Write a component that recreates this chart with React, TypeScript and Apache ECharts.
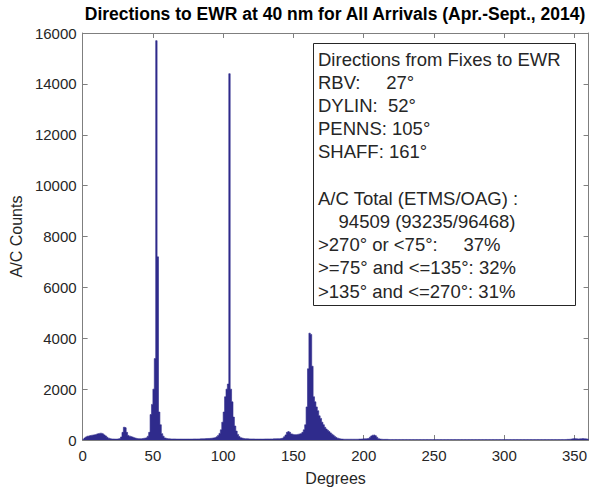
import React, { useEffect, useRef } from "react";
import * as echarts from "echarts";

// Histogram counts per 1-degree bin (bin d covers [d, d+1))
const counts000to059 = [
  30, 80, 120, 150, 170, 180, 190, 200, 210, 230,
  250, 260, 270, 260, 240, 200, 160, 110, 70, 50,
  40, 40, 35, 35, 40, 50, 70, 120, 300, 500,
  480, 300, 180, 150, 130, 110, 90, 70, 60, 50,
  50, 50, 60, 70, 80, 100, 150, 300, 1000, 1400,
  2000, 3200, 15700, 7200, 1100, 600, 250, 150, 80, 60,
];
const counts060to119 = [
  50, 45, 40, 40, 40, 40, 35, 35, 35, 35,
  35, 35, 35, 35, 35, 35, 35, 35, 40, 40,
  40, 40, 40, 45, 45, 50, 50, 55, 60, 60,
  65, 70, 80, 90, 100, 130, 180, 260, 400, 700,
  1100, 1700, 2000, 2200, 14400, 2000, 1500, 900, 550, 350,
  220, 140, 90, 70, 60, 50, 50, 45, 40, 40,
];
const counts120to179 = [
  40, 40, 35, 35, 35, 35, 35, 35, 35, 40,
  40, 40, 40, 40, 40, 45, 45, 50, 50, 50,
  55, 70, 90, 130, 200, 300, 330, 300, 240, 220,
  210, 210, 220, 230, 250, 260, 300, 400, 600, 1300,
  2800, 4200, 4150, 2900, 1700, 1500, 1300, 1150, 950, 850,
  700, 600, 500, 430, 380, 330, 280, 230, 190, 140,
];
const counts180to239 = [
  100, 70, 50, 40, 35, 30, 30, 30, 30, 30,
  30, 30, 30, 30, 30, 30, 35, 35, 40, 45,
  45, 50, 55, 60, 110, 160, 190, 200, 170, 110,
  50, 35, 30, 25, 25, 25, 25, 20, 20, 20,
  20, 20, 20, 20, 20, 20, 20, 20, 20, 20,
  20, 20, 18, 18, 18, 18, 18, 18, 18, 18,
];
const counts240to299 = [
  18, 18, 18, 18, 18, 18, 18, 18, 18, 18,
  18, 18, 18, 18, 18, 18, 18, 18, 18, 18,
  18, 18, 18, 18, 18, 18, 18, 18, 18, 18,
  18, 18, 18, 18, 18, 18, 18, 18, 18, 18,
  18, 18, 18, 18, 18, 18, 18, 18, 18, 18,
  18, 18, 18, 18, 18, 18, 18, 18, 18, 18,
];
const counts300to359 = [
  18, 18, 18, 18, 18, 18, 18, 18, 18, 18,
  18, 18, 18, 18, 18, 18, 18, 18, 18, 18,
  18, 18, 18, 18, 18, 18, 18, 18, 18, 18,
  18, 18, 18, 18, 18, 18, 18, 18, 18, 18,
  20, 20, 20, 20, 25, 25, 30, 40, 50, 55,
  50, 45, 40, 45, 50, 55, 50, 45, 40, 30,
];

const xTicks = { min: 0, max: 360, interval: 50 };
const yTicks = { min: 0, max: 16000, interval: 2000 };

const titleText = "Directions to EWR at 40 nm for All Arrivals (Apr.-Sept., 2014)";
const xName = "Degrees";
const yName = "A/C Counts";

const NB = "\u00A0";
const legendLines = [
  "Directions from Fixes to EWR",
  "RBV:" + NB.repeat(5) + "27°",
  "DYLIN:" + NB + NB + "52°",
  "PENNS: 105°",
  "SHAFF: 161°",
  "",
  "A/C Total (ETMS/OAG) :",
  NB.repeat(4) + "94509 (93235/96468)",
  ">270° or <75°:" + NB.repeat(5) + "37%",
  ">=75° and <=135°: 32%",
  ">135° and <=270°: 31%",
];

const FONT = "'Liberation Sans', Arial, Helvetica, sans-serif";
const BAR = "#2f2b8c";
const AXIS = "#7f7f7f";
const TXT = "#262626";

export default function App() {
  const ref = useRef<HTMLDivElement>(null);
  useEffect(() => {
    if (!ref.current) return;
    const chart = echarts.init(ref.current, undefined, { renderer: "svg" });
    const counts = [
      ...counts000to059,
      ...counts060to119,
      ...counts120to179,
      ...counts180to239,
      ...counts240to299,
      ...counts300to359,
    ];
    const pts: number[][] = counts.map((v, i) => [i, v]);
    pts.push([counts.length, counts[counts.length - 1]]);

    const gridL = 81, gridT = 33, gridR = 1, gridB = 49;
    const lineH = 23.2;
    const legendTexts = legendLines.map((t, i) => ({
      type: "text",
      x: 318,
      y: 59 + i * lineH,
      style: {
        text: t,
        fill: TXT,
        font: `18.5px ${FONT}`,
        textVerticalAlign: "middle",
        verticalAlign: "middle",
      },
      z: 101,
    }));

    const axisCommon = {
      axisLine: { show: true, onZero: false, lineStyle: { color: AXIS, width: 1 } },
      axisTick: { show: true, inside: true, length: 5, lineStyle: { color: AXIS } },
      splitLine: { show: false },
    };

    chart.setOption({
      animation: false,
      backgroundColor: "#ffffff",
      grid: { left: gridL, top: gridT, right: gridR, bottom: gridB, containLabel: false },
      xAxis: [
        {
          type: "value",
          ...xTicks,
          position: "bottom",
          ...axisCommon,
          name: xName,
          nameLocation: "middle",
          nameGap: 30,
          nameTextStyle: { color: TXT, fontSize: 16, fontFamily: FONT },
          axisLabel: {
            show: true,
            color: TXT,
            fontSize: 15,
            fontFamily: FONT,
            margin: 8,
            showMaxLabel: false,
            formatter: (v: number) => String(v),
          },
        },
        {
          type: "value",
          ...xTicks,
          position: "top",
          ...axisCommon,
          axisLabel: { show: false },
        },
      ],
      yAxis: [
        {
          type: "value",
          ...yTicks,
          position: "left",
          ...axisCommon,
          name: yName,
          nameLocation: "middle",
          nameGap: 55,
          nameTextStyle: { color: TXT, fontSize: 16, fontFamily: FONT },
          axisLabel: {
            show: true,
            color: TXT,
            fontSize: 15,
            fontFamily: FONT,
            margin: 6,
            formatter: (v: number) => String(v),
          },
        },
        {
          type: "value",
          ...yTicks,
          position: "right",
          ...axisCommon,
          axisLabel: { show: false },
        },
      ],
      series: [
        {
          type: "line",
          step: "end",
          data: pts,
          xAxisIndex: 0,
          yAxisIndex: 0,
          symbol: "none",
          lineStyle: { color: BAR, width: 0.6 },
          areaStyle: { color: BAR, opacity: 1 },
          itemStyle: { color: BAR },
          z: 2,
        },
      ],
      graphic: [
        {
          type: "text",
          x: (gridL + 590 - gridR) / 2,
          y: 14,
          style: {
            text: titleText,
            fill: "#000",
            font: `bold 17.5px ${FONT}`,
            textAlign: "center",
            align: "center",
            textVerticalAlign: "middle",
            verticalAlign: "middle",
          },
        },
        {
          type: "rect",
          shape: { x: 313.5, y: 43.5, width: 262, height: 262 },
          style: { fill: "#fff", stroke: TXT, lineWidth: 1 },
          z: 100,
        },
        ...legendTexts,
      ],
    });
    return () => chart.dispose();
  }, []);
  return (
    <div
      ref={ref}
      style={{ position: "fixed", left: 0, top: 0, width: 590, height: 491 }}
    />
  );
}
